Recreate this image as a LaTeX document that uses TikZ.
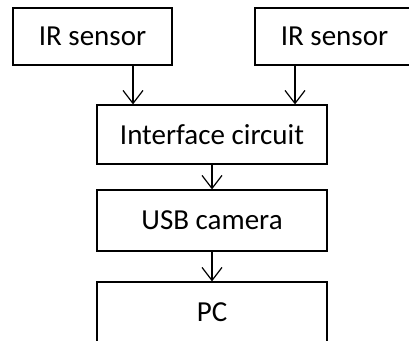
\documentclass[tikz,border=0pt]{standalone}
\usepackage{fontspec}
\setmainfont{Carlito}
\usetikzlibrary{arrows.meta}

\begin{document}
\begin{tikzpicture}[x=1pt,y=-1pt,
    block/.style={rectangle, draw, line width=1.2pt, inner sep=0pt,
      minimum width=230pt, font=\fontsize{29}{33}\selectfont},
    sensor/.style={block, minimum width=159pt, minimum height=57pt},
    >={Straight Barb[length=13pt,width=20pt,line width=1.2pt]}]
    \useasboundingbox (0,0) rectangle (409,340);
    \node[sensor] (irL) at (92.5,36.5) {IR sensor};
    \node[sensor] (irR) at (334.5,36.5) {IR sensor};
    \node[block,minimum height=59pt] (iface) at (212,134.5) {Interface circuit};
    \node[block,minimum height=61pt] (usb) at (212,220.5) {USB camera};
    \node[block,minimum height=60pt] (pc) at (212,312) {PC};
    \draw[->,line width=1.2pt] ([xshift=40.5pt]irL.south) -- ([xshift=40.5pt]irL.south |- iface.north);
    \draw[->,line width=1.2pt] ([xshift=-39.5pt]irR.south) -- ([xshift=-39.5pt]irR.south |- iface.north);
    \draw[->,line width=1.2pt] (iface) -- (usb);
    \draw[->,line width=1.2pt] (usb) -- (pc);
\end{tikzpicture}
\end{document}
